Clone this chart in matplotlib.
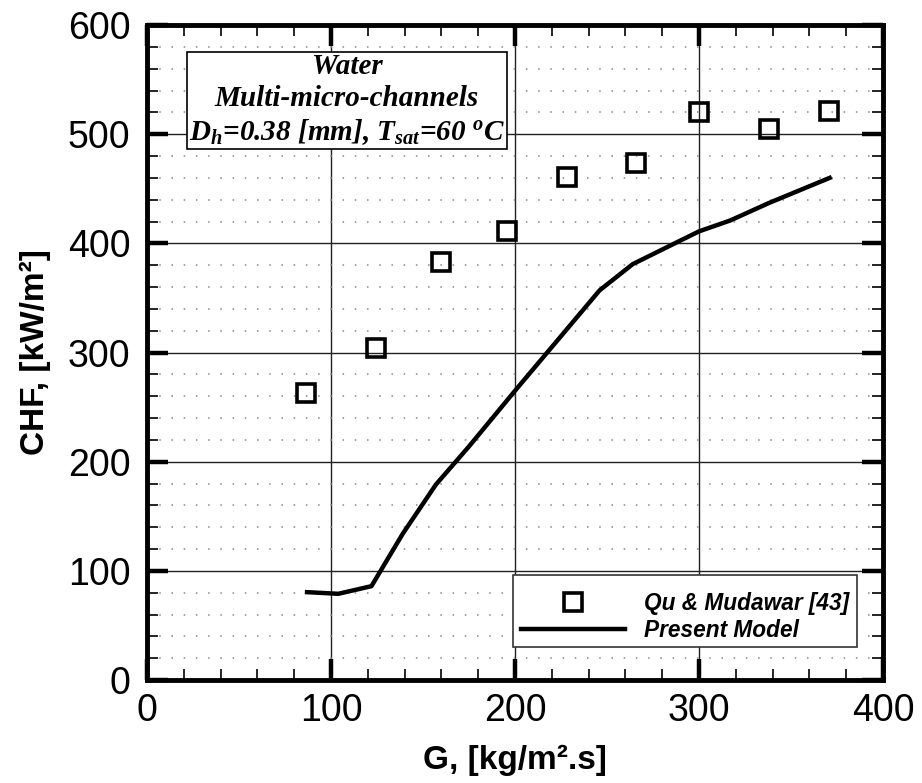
import matplotlib

matplotlib.use("Agg")
import matplotlib.pyplot as plt
from matplotlib.ticker import MultipleLocator
from matplotlib.lines import Line2D
from matplotlib.patches import Rectangle

exp_G = [86.5, 124.5, 160, 195.5, 228.5, 265.5, 300, 338, 370.5]
exp_CHF = [263, 304, 383, 411, 461, 474, 520.5, 505, 521.5]
model_G = [87, 104, 122, 139, 157, 175, 201, 228, 246, 264, 300, 317, 338, 371]
model_CHF = [80.5, 79, 86, 134, 179, 214, 267, 321, 357, 381, 411, 421, 437, 460]

plt.rcParams.update({
    "font.family": ["Liberation Sans", "DejaVu Sans"],
    "mathtext.fontset": "custom",
    "mathtext.rm": "Liberation Serif:bold:italic",
    "mathtext.it": "Liberation Serif:bold:italic",
    "mathtext.bf": "Liberation Serif:bold:italic",
})

fig = plt.figure(figsize=(9.22, 7.83), dpi=100)
ax = fig.add_axes([0.1594, 0.1315, 0.7983, 0.8365])

ax.set_xlim(0, 400)
ax.set_ylim(0, 600)
ax.xaxis.set_major_locator(MultipleLocator(100))
ax.xaxis.set_minor_locator(MultipleLocator(20))
ax.yaxis.set_major_locator(MultipleLocator(100))
ax.yaxis.set_minor_locator(MultipleLocator(20))

ax.grid(which="major", color="#222222", lw=1.0, ls="-")
ax.yaxis.grid(which="minor", color="#888888", lw=1.1, ls=(0, (1, 7)))
ax.set_axisbelow(True)

for s in ax.spines.values():
    s.set_linewidth(3.5)

ax.tick_params(which="both", direction="in", top=True, right=True)
ax.tick_params(which="major", length=15, width=3.2, labelsize=27)
ax.tick_params(which="minor", length=8, width=1.2)
ax.tick_params(axis="y", which="major", pad=12)
ax.tick_params(axis="x", which="major", pad=9)

ax.plot(model_G, model_CHF, color="black", lw=3.2, zorder=3)
ax.plot(exp_G, exp_CHF, ls="none", marker="s", ms=13, mfc="none",
        mec="black", mew=2.6, zorder=4)

ax.set_xlabel("G, [kg/m²" + ".s]", fontsize=24, fontweight="bold", labelpad=12)
ax.set_ylabel("CHF, [kW/m²]", fontsize=24, fontweight="bold", labelpad=12)

ax.text(108.7, 531.6,
        "Water\nMulti-micro-channels\nD$_h$=0.38 [mm], T$_{sat}$=60 $^o$C",
        family="Liberation Serif", style="italic", fontweight="bold",
        fontsize=21, ha="center", va="center", linespacing=1.22, zorder=5,
        bbox=dict(boxstyle="square,pad=0.08", fc="white", ec="black", lw=1.2))

# legend frame drawn separately (wider vertical padding than horizontal)
box = (0.497, 0.05, 0.468, 0.11)
ax.add_patch(Rectangle(box[:2], box[2], box[3], transform=ax.transAxes,
                       fc="white", ec="#333333", lw=1.2, zorder=5))
handles = [
    Line2D([], [], ls="none", marker="s", ms=13, mfc="none", mec="black", mew=2.6),
    Line2D([], [], color="black", lw=3.2),
]
leg = ax.legend(handles, ["Qu & Mudawar [43]", "Present Model"],
                loc="center", bbox_to_anchor=(box[0], box[1] - 0.009, box[2], box[3]),
                prop=dict(family="Liberation Sans", weight="bold",
                          style="italic", size=16.3),
                frameon=False, handlelength=4.6, handletextpad=0.84,
                labelspacing=0.2, borderpad=0, borderaxespad=0)
leg.set_zorder(6)

fig.savefig("out.png", dpi=100)
